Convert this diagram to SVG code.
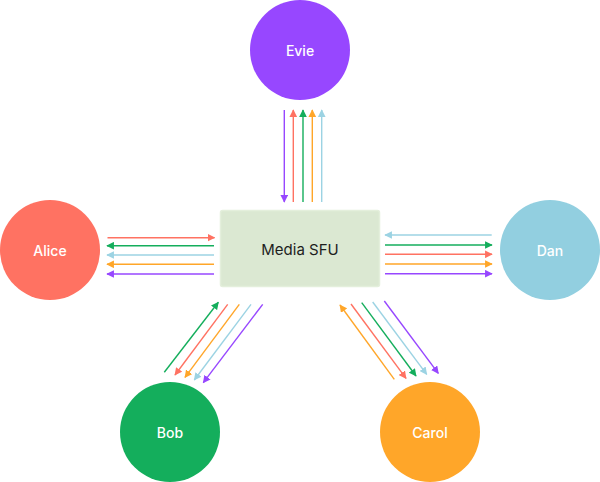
<svg xmlns="http://www.w3.org/2000/svg" width="600" height="482" viewBox="0 0 600 482">
<style>
.lbl{font-family:Inter,"Liberation Sans",sans-serif;font-size:14px;font-weight:500;fill:#ffffff;text-anchor:middle;dominant-baseline:central}
.box-lbl{font-family:Inter,"Liberation Sans",sans-serif;font-size:15px;fill:#1e1e1e;text-anchor:middle;dominant-baseline:central}
.c line{stroke-width:1.4;fill:none}
.pu{stroke:#9747ff}.re{stroke:#ff7262}.gr{stroke:#14ae5c}.or{stroke:#ffa629}.bl{stroke:#9cd3e3}
</style>
<defs>
<marker id="mpu" viewBox="0 0 10 10" refX="9" refY="5" markerWidth="5.5" markerHeight="5.5" orient="auto" markerUnits="strokeWidth"><path d="M0,0L10,5L0,10z" fill="#9747ff"/></marker>
<marker id="mre" viewBox="0 0 10 10" refX="9" refY="5" markerWidth="5.5" markerHeight="5.5" orient="auto" markerUnits="strokeWidth"><path d="M0,0L10,5L0,10z" fill="#ff7262"/></marker>
<marker id="mgr" viewBox="0 0 10 10" refX="9" refY="5" markerWidth="5.5" markerHeight="5.5" orient="auto" markerUnits="strokeWidth"><path d="M0,0L10,5L0,10z" fill="#14ae5c"/></marker>
<marker id="mor" viewBox="0 0 10 10" refX="9" refY="5" markerWidth="5.5" markerHeight="5.5" orient="auto" markerUnits="strokeWidth"><path d="M0,0L10,5L0,10z" fill="#ffa629"/></marker>
<marker id="mbl" viewBox="0 0 10 10" refX="9" refY="5" markerWidth="5.5" markerHeight="5.5" orient="auto" markerUnits="strokeWidth"><path d="M0,0L10,5L0,10z" fill="#9cd3e3"/></marker>
</defs>
<g id="connectors" class="c">
<line class="pu" x1="284.3" y1="110" x2="284.3" y2="202" marker-end="url(#mpu)"/>
<line class="re" x1="293.3" y1="202" x2="293.3" y2="110" marker-end="url(#mre)"/>
<line class="gr" x1="303" y1="202" x2="303" y2="110" marker-end="url(#mgr)"/>
<line class="or" x1="312.3" y1="202" x2="312.3" y2="110" marker-end="url(#mor)"/>
<line class="bl" x1="321.7" y1="202" x2="321.7" y2="110" marker-end="url(#mbl)"/>
<line class="re" x1="107.5" y1="237.7" x2="214.5" y2="237.7" marker-end="url(#mre)"/>
<line class="gr" x1="214" y1="245.7" x2="107" y2="245.7" marker-end="url(#mgr)"/>
<line class="bl" x1="214" y1="255" x2="107" y2="255" marker-end="url(#mbl)"/>
<line class="or" x1="214" y1="264.3" x2="107" y2="264.3" marker-end="url(#mor)"/>
<line class="pu" x1="214" y1="274" x2="107" y2="274" marker-end="url(#mpu)"/>
<line class="bl" x1="491.7" y1="235" x2="385" y2="235" marker-end="url(#mbl)"/>
<line class="gr" x1="385" y1="245" x2="492" y2="245" marker-end="url(#mgr)"/>
<line class="re" x1="385" y1="254.3" x2="492" y2="254.3" marker-end="url(#mre)"/>
<line class="or" x1="385" y1="264" x2="492" y2="264" marker-end="url(#mor)"/>
<line class="pu" x1="385" y1="273.7" x2="492" y2="273.7" marker-end="url(#mpu)"/>
<line class="gr" x1="164.3" y1="372.3" x2="218.3" y2="302.3" marker-end="url(#mgr)"/>
<line class="re" x1="227.7" y1="304.3" x2="175" y2="375" marker-end="url(#mre)"/>
<line class="or" x1="239.3" y1="304.3" x2="185" y2="377.3" marker-end="url(#mor)"/>
<line class="bl" x1="251" y1="304.3" x2="194.3" y2="380" marker-end="url(#mbl)"/>
<line class="pu" x1="262.7" y1="304.3" x2="203.3" y2="382.7" marker-end="url(#mpu)"/>
<line class="or" x1="394.3" y1="379.3" x2="340" y2="305" marker-end="url(#mor)"/>
<line class="re" x1="351" y1="304" x2="406" y2="378.3" marker-end="url(#mre)"/>
<line class="gr" x1="361.7" y1="302.7" x2="416" y2="376" marker-end="url(#mgr)"/>
<line class="bl" x1="372.7" y1="302" x2="426.7" y2="374.3" marker-end="url(#mbl)"/>
<line class="pu" x1="384.3" y1="301" x2="438.3" y2="373.3" marker-end="url(#mpu)"/>
</g>
<g id="sfu">
<rect x="220.5" y="210.5" width="159" height="76" rx="2" fill="#dbe8d2" stroke="#e4efdc" stroke-width="1.5"/>
<text class="box-lbl" x="300" y="249">Media SFU</text>
</g>
<g id="evie"><circle cx="300" cy="50" r="50" fill="#9747ff"/><text class="lbl" x="300" y="50">Evie</text></g>
<g id="alice"><circle cx="50" cy="250" r="50" fill="#ff7262"/><text class="lbl" x="50" y="250">Alice</text></g>
<g id="dan"><circle cx="550" cy="250" r="50" fill="#92cfe0"/><text class="lbl" x="550" y="250">Dan</text></g>
<g id="bob"><circle cx="170" cy="432" r="50" fill="#14ae5c"/><text class="lbl" x="170" y="432">Bob</text></g>
<g id="carol"><circle cx="430" cy="432" r="50" fill="#ffa629"/><text class="lbl" x="430" y="432">Carol</text></g>
</svg>
